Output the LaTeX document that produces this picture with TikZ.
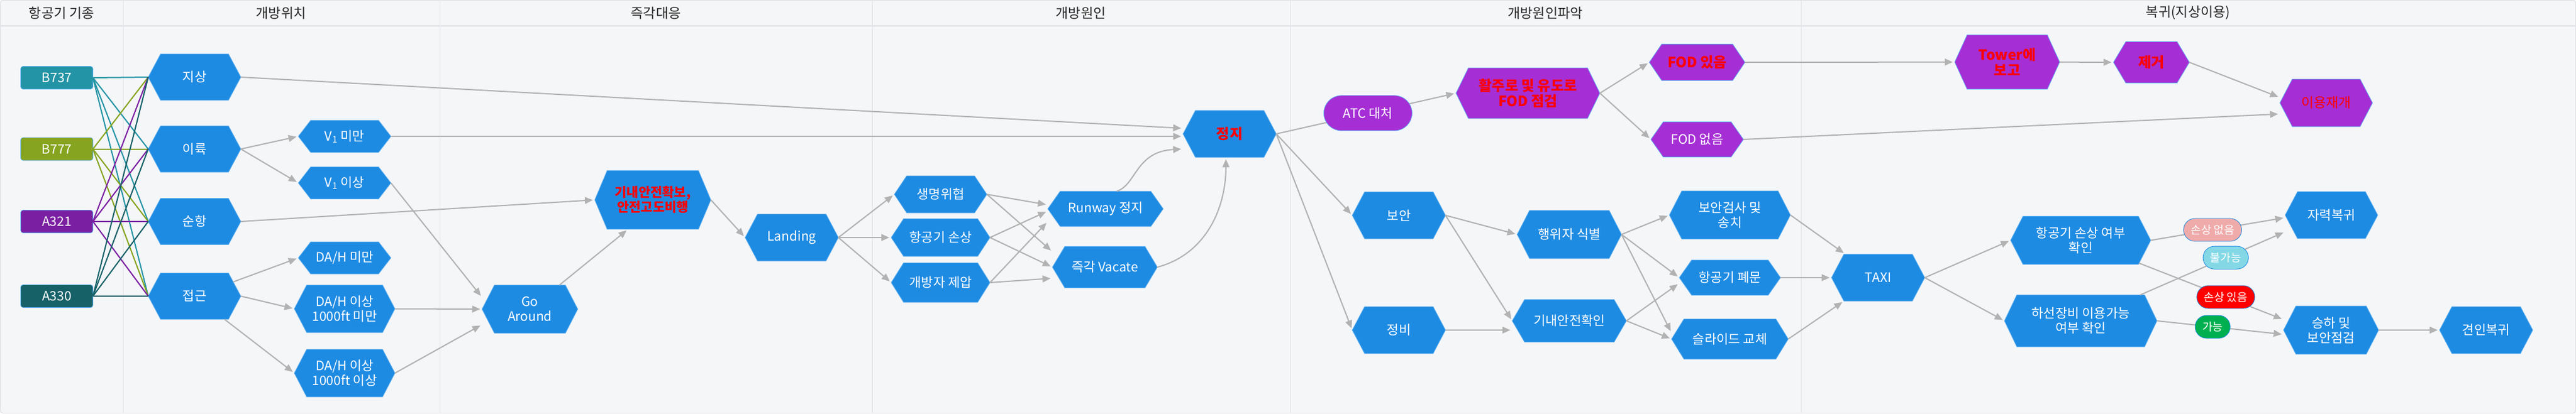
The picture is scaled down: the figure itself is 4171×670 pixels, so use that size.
\documentclass[tikz,border=0pt]{standalone}
\usepackage{fontspec}
\setmainfont{Noto Sans CJK KR}
\usepackage{xcolor}
\usepackage{tikz}
\usetikzlibrary{positioning}
\usetikzlibrary{arrows.meta}
\usetikzlibrary{shapes.symbols,shapes.misc}

\definecolor{pagebg}{RGB}{245,246,248}
\definecolor{gridln}{RGB}{222,225,229}
\definecolor{hexblue}{RGB}{30,139,227}
\definecolor{hexpurple}{RGB}{165,46,213}
\definecolor{hexrim}{RGB}{98,178,240}
\definecolor{edgegray}{RGB}{178,178,178}
\definecolor{acteal}{RGB}{35,148,165}
\definecolor{acolive}{RGB}{134,164,31}
\definecolor{acpurple}{RGB}{123,31,162}
\definecolor{acdark}{RGB}{22,97,104}
\definecolor{tagpink}{RGB}{239,170,170}
\definecolor{tagcyan}{RGB}{132,216,230}
\definecolor{tagred}{RGB}{255,0,0}
\definecolor{taggreen}{RGB}{0,176,80}

\tikzset{
  hex/.style 2 args={signal, signal to=west and east, signal pointer angle={2*atan(#2/40)},
    minimum width=#1, minimum height=#2, inner sep=2pt, outer sep=0pt,
    fill=hexblue, draw=hexrim, line width=0.8pt, text=white, align=center},
  purp/.style={fill=hexpurple},
  redb/.style={text=red, font=\bfseries\fontsize{23}{25}\selectfont},
  acbox/.style={rectangle, rounded corners=4pt, minimum width=117, minimum height=37,
    draw=hexrim, line width=0.8pt, text=white, outer sep=0pt},
  tag/.style={rounded rectangle, minimum height=37, inner xsep=10pt, draw=hexblue,
    line width=0.8pt, text=white, font=\fontsize{18}{20}\selectfont, outer sep=0pt},
  arr/.style={->, edgegray, line width=2pt, shorten >=3pt},
  link/.style={line width=2pt},
  colhead/.style={text=black!85, font=\fontsize{22}{24}\selectfont},
}

\begin{document}
\begin{tikzpicture}[>={Triangle[length=13pt,width=11pt]}, x=1pt, y=1pt, font=\fontsize{21}{24}\selectfont]
      \useasboundingbox (0,0) rectangle (4171,-670);
      \fill [pagebg, rounded corners=4pt] (0,0) rectangle (4171,-670);
      \draw [gridln, line width=2pt] (0,-42) -- (4171,-42);% header rule
      \foreach \cx in {199,712,1412,2089,2916}
        \draw [gridln, line width=1pt] (\cx,0) -- (\cx,-670);
      \draw [gridln, line width=1pt, rounded corners=4pt] (0.5,-0.5) rectangle (4170.5,-669.5);

      % column titles
      \node (hdtype) [colhead] at (100,-21) {항공기 기종};
      \node (hdpos) [colhead] at (455,-21) {개방위치};
      \node (hdact) [colhead] at (1062,-21) {즉각대응};
      \node (hdcause) [colhead] at (1750,-21) {개방원인};
      \node (hdfind) [colhead] at (2502,-21) {개방원인파악};
      \node (hdback) [colhead] at (3543,-21) {복귀(지상이용)};

      % aircraft types
      \node (b737) [acbox, fill=acteal] at (92,-126) {B737};
      \node (b777) [acbox, fill=acolive] at (92,-241.5) {B777};
      \node (a321) [acbox, fill=acpurple] at (92,-359) {A321};
      \node (a330) [acbox, fill=acdark] at (92,-480) {A330};

      % where the door was opened
      \node (gnd) [hex={150}{75}] at (315,-125) {지상};
      \node (tko) [hex={150}{75}] at (315,-241.5) {이륙};
      \node (crz) [hex={150}{75}] at (315,-359) {순항};
      \node (apr) [hex={150}{75}] at (315,-480) {접근};
      \node (vlow) [hex={150}{52}] at (558,-221) {V\textsubscript{1} 미만};
      \node (vhigh) [hex={150}{52}, below=23.5pt of vlow] {V\textsubscript{1} 이상};
      \node (dalow) [hex={150}{52}] at (558,-418) {DA/H 미만};
      \node (damid) [hex={163}{77}] at (558,-500.5) {DA/H 이상\\1000ft 미만};
      \node (dahigh) [hex={163}{77}] at (558,-604.7) {DA/H 이상\\1000ft 이상};

      \foreach \ac/\col in {b737/acteal, b777/acolive, a321/acpurple, a330/acdark}
        \foreach \st in {gnd,tko,crz,apr}
          \draw [link, \col] (\ac.east) -- (\st.west);

      % immediate response
      \node (goar) [hex={155}{78}] at (858,-501) {Go\\Around};
      \node (safe) [hex={188}{95}, text=red, font=\bfseries\fontsize{21}{24}\selectfont] at (1057,-324) {기내안전확보,\\안전고도비행};
      \node (land) [hex={151}{76}] at (1282,-385) {Landing};

      % cause of opening
      \node (life) [hex={150}{60}] at (1523,-315) {생명위협};
      \node (dmg) [hex={160}{61}, below=9.5pt of life] {항공기 손상};
      \node (opener) [hex={160}{64}, below=10.5pt of dmg] {개방자 제압};
      \node (rwy) [hex={187}{57}] at (1790,-338.5) {Runway 정지};
      \node (vac) [hex={170}{67}] at (1789,-433) {즉각 Vacate};
      \node (stop) [hex={151}{76}, redb] at (1991,-217) {정지};

      % finding the cause
      \node (sec) [hex={151}{76}] at (2265,-349) {보안};
      \node (mnt) [hex={151}{76}] at (2265,-535) {정비};
      \node (fodchk) [hex={233}{82}, purp, redb] at (2474,-151) {활주로 및 유도로\\FOD 점검};
      \node (fodyes) [hex={155}{59}, purp, redb] at (2748,-101) {FOD 있음};
      \node (fodno) [hex={150}{57}, purp] at (2748,-226) {FOD 없음};
      \node (actor) [hex={169}{78}] at (2541,-380) {행위자 식별};
      \node (cabin) [hex={185}{69}] at (2541,-520) {기내안전확인};
      \node (inspect) [hex={196}{78}] at (2801,-348.5) {보안검사 및\\송치};
      \node (close) [hex={164}{57}, below=34pt of inspect] {항공기 폐문};
      \node (slide) [hex={189}{65}, below=38.5pt of close] {슬라이드 교체};

      % return
      \node (taxi) [hex={151}{76}] at (3041,-450) {TAXI};
      \node (tower) [hex={170}{88}, purp, redb] at (3250,-100.6) {Tower에\\보고};
      \node (remove) [hex={123}{67}, purp, redb] at (3483.5,-101) {제거};
      \node (reuse) [hex={150}{77}, purp, text=red, font=\fontsize{22}{24}\selectfont] at (3766.5,-166.7) {이용재개};
      \node (dmgchk) [hex={227}{78}] at (3369,-389.5) {항공기 손상 여부\\확인};
      \node (stairs) [hex={247}{84}] at (3369,-520) {하선장비 이용가능\\여부 확인};
      \node (selfret) [hex={150}{76}] at (3775,-348.7) {자력복귀};
      \node (board) [hex={154}{78}] at (3774.4,-535) {승하 및\\보안점검};
      \node (tow) [hex={151}{76}, right=98.6pt of board] {견인복귀};

      \draw [arr] (tko.east) -- (vlow.west);
      \draw [arr] (tko.east) -- (vhigh.west);
      \draw [arr] (apr) -- (dalow.west);
      \draw [arr] (apr.east) -- (damid.west);
      \draw [arr] (apr) -- (dahigh.west);
      \draw [arr] (gnd.east) -- ([yshift=9pt]stop.west);
      \draw [arr] (vlow.east) -- (vlow.east -| stop.west);
      \draw [arr] (vhigh.east) -- ([yshift=19pt]goar.west);
      \draw [arr] (damid.east) -- (goar.west);
      \draw [arr] (dahigh.east) -- ([yshift=-25pt]goar.west);
      \draw [arr] (crz.east) -- (safe.west);
      \draw [arr] (goar) -- ([xshift=-40pt]safe.south);
      \draw [arr] (safe.east) -- (land.west);
      \draw [arr] (land.east) -- (life.west);
      \draw [arr] (land.east) -- (dmg.west);
      \draw [arr] (land.east) -- (opener.west);
      \draw [arr] (life.east) -- ([yshift=6.5pt]rwy.west);
      \draw [arr] (life.east) -- ([yshift=25pt]vac.west);
      \draw [arr] (dmg.east) -- ([yshift=-3.5pt]rwy.west);
      \draw [arr] (dmg.east) -- (vac.west);
      \draw [arr] (opener.east) -- ([yshift=-20.5pt]rwy.west);
      \draw [arr] (opener.east) -- ([yshift=-18pt]vac.west);
      \draw [arr] ([xshift=18pt]rwy.north) .. controls +(32,10) and +(-77,-4) .. ([yshift=-24.5pt]stop.west);
      \draw [arr] (vac.east) to[out=15,in=-90] ([xshift=-6pt]stop.south);

      \draw [arr] (stop.east) -- node [tag, fill=hexpurple, draw=hexrim, minimum height=57, minimum width=163,
        font=\fontsize{21}{24}\selectfont, pos=.51] (atc) {ATC 대처} (fodchk.west);
      \draw [arr] (stop.east) -- (sec.west);
      \draw [arr] (stop.east) -- (mnt.west);
      \draw [arr] (fodchk.east) -- (fodyes.west);
      \draw [arr] (fodchk.east) -- (fodno.west);
      \draw [arr] (fodyes.east) -- (tower.west);
      \draw [arr] (tower.east) -- (remove.west);
      \draw [arr] (remove.east) -- ([yshift=8.7pt]reuse.west);
      \draw [arr] (fodno.east) -- ([yshift=-18pt]reuse.west);
      \draw [arr] (sec.east) -- (actor.west);
      \draw [arr] (sec.east) -- (cabin.west);
      \draw [arr] (mnt.east) -- (mnt.east -| cabin.west);
      \draw [arr] (actor.east) -- (inspect.west);
      \draw [arr] (actor.east) -- (close.west);
      \draw [arr] (actor.east) -- ([yshift=10pt]slide.west);
      \draw [arr] (cabin.east) -- ([yshift=-9pt]close.west);
      \draw [arr] (cabin.east) -- (slide.west);
      \draw [arr] (inspect.east) -- (taxi);
      \draw [arr] (close.east) -- (taxi.west);
      \draw [arr] (slide.east) -- (taxi);
      \draw [arr] (taxi.east) -- (dmgchk.west);
      \draw [arr] (taxi.east) -- (stairs.west);
      \draw [arr] (dmgchk.east) -- node [tag, fill=tagpink, pos=.46] (nodmg) {손상 없음} ([yshift=-4pt]selfret.west);
      \draw [arr] (stairs) -- node [tag, fill=tagcyan, pos=.59] (noboard) {불가능} ([yshift=-27pt]selfret.west);
      \draw [arr] (dmgchk) -- node [tag, fill=tagred, pos=.6] (hasdmg) {손상 있음} ([yshift=17pt]board.west);
      \draw [arr] (stairs.east) -- node [tag, fill=taggreen, pos=.44] (canboard) {가능} ([yshift=-7pt]board.west);
      \draw [arr] (board.east) -- (tow.west);
    \end{tikzpicture}
\end{document}
